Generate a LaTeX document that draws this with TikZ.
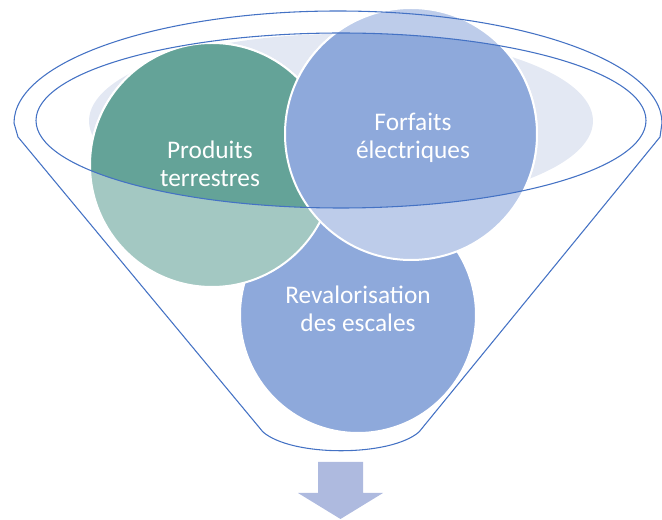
\documentclass[tikz,border=0pt]{standalone}
\usepackage{fontspec}
\setmainfont{Carlito}
\usepackage{xcolor}
\usetikzlibrary{positioning}
\usetikzlibrary{calc}

\definecolor{rimblue}{HTML}{4472C4}
\definecolor{tealdark}{HTML}{64A398}
\definecolor{teallight}{HTML}{A3C8C2}
\definecolor{balldark}{HTML}{8EA9DB}
\definecolor{balllight}{HTML}{BDCCEA}
\definecolor{liquid}{HTML}{E3E8F3}
\definecolor{arrowblue}{HTML}{AEBADF}

\begin{document}
\begin{tikzpicture}[x=0.75pt,y=0.75pt,
		ball/.style={draw=white, line width=1.5pt},
		rim/.style={draw=rimblue, line width=0.8pt},
		lbl/.style={text=white, font=\fontsize{19}{21}\selectfont, align=center}]
	\useasboundingbox (0,0) rectangle (662,-520);
	
	% liquid in the funnel
	\fill[liquid] (341,-121) ellipse [x radius=252, y radius=87];
	
	% balls, seen through the glass
	\filldraw[ball, fill=balldark] (358,-315) circle (118);
	\filldraw[ball, fill=teallight] (212,-165) circle (122);
	\filldraw[ball, fill=balllight] (411,-134) circle (126);
	% balls, inside the rim
	\begin{scope}
		\clip (341,-120.5) ellipse [x radius=305, y radius=87.5];
		\filldraw[ball, fill=tealdark] (212,-165) circle (122);
		\filldraw[ball, fill=balldark] (411,-134) circle (126);
	\end{scope}
	
	% labels
	\node[lbl] (produits) at (210,-164) {Produits\\terrestres};
	\node[lbl] (forfaits) at (413,-137.5) {Forfaits\\électriques};
	\node[lbl] (escales) at (358,-309) {Revalorisation\\des escales};
	
	% funnel
	\draw[rim] (341,-120.5) ellipse [x radius=305, y radius=87.5];
	\draw[rim] (263,-432) -- (18,-137) -- (14,-123)
		arc[start angle=180, end angle=0, x radius=324, y radius=112]
		-- (660,-137) -- (419,-432)
		.. controls (390,-457) and (292,-457) .. cycle;
	
	% arrow
	\fill[arrowblue] (318,-462) -- (363,-462) -- (363,-493) -- (383,-493)
		-- (340.5,-519) -- (298,-493) -- (318,-493) -- cycle;
\end{tikzpicture}
\end{document}
